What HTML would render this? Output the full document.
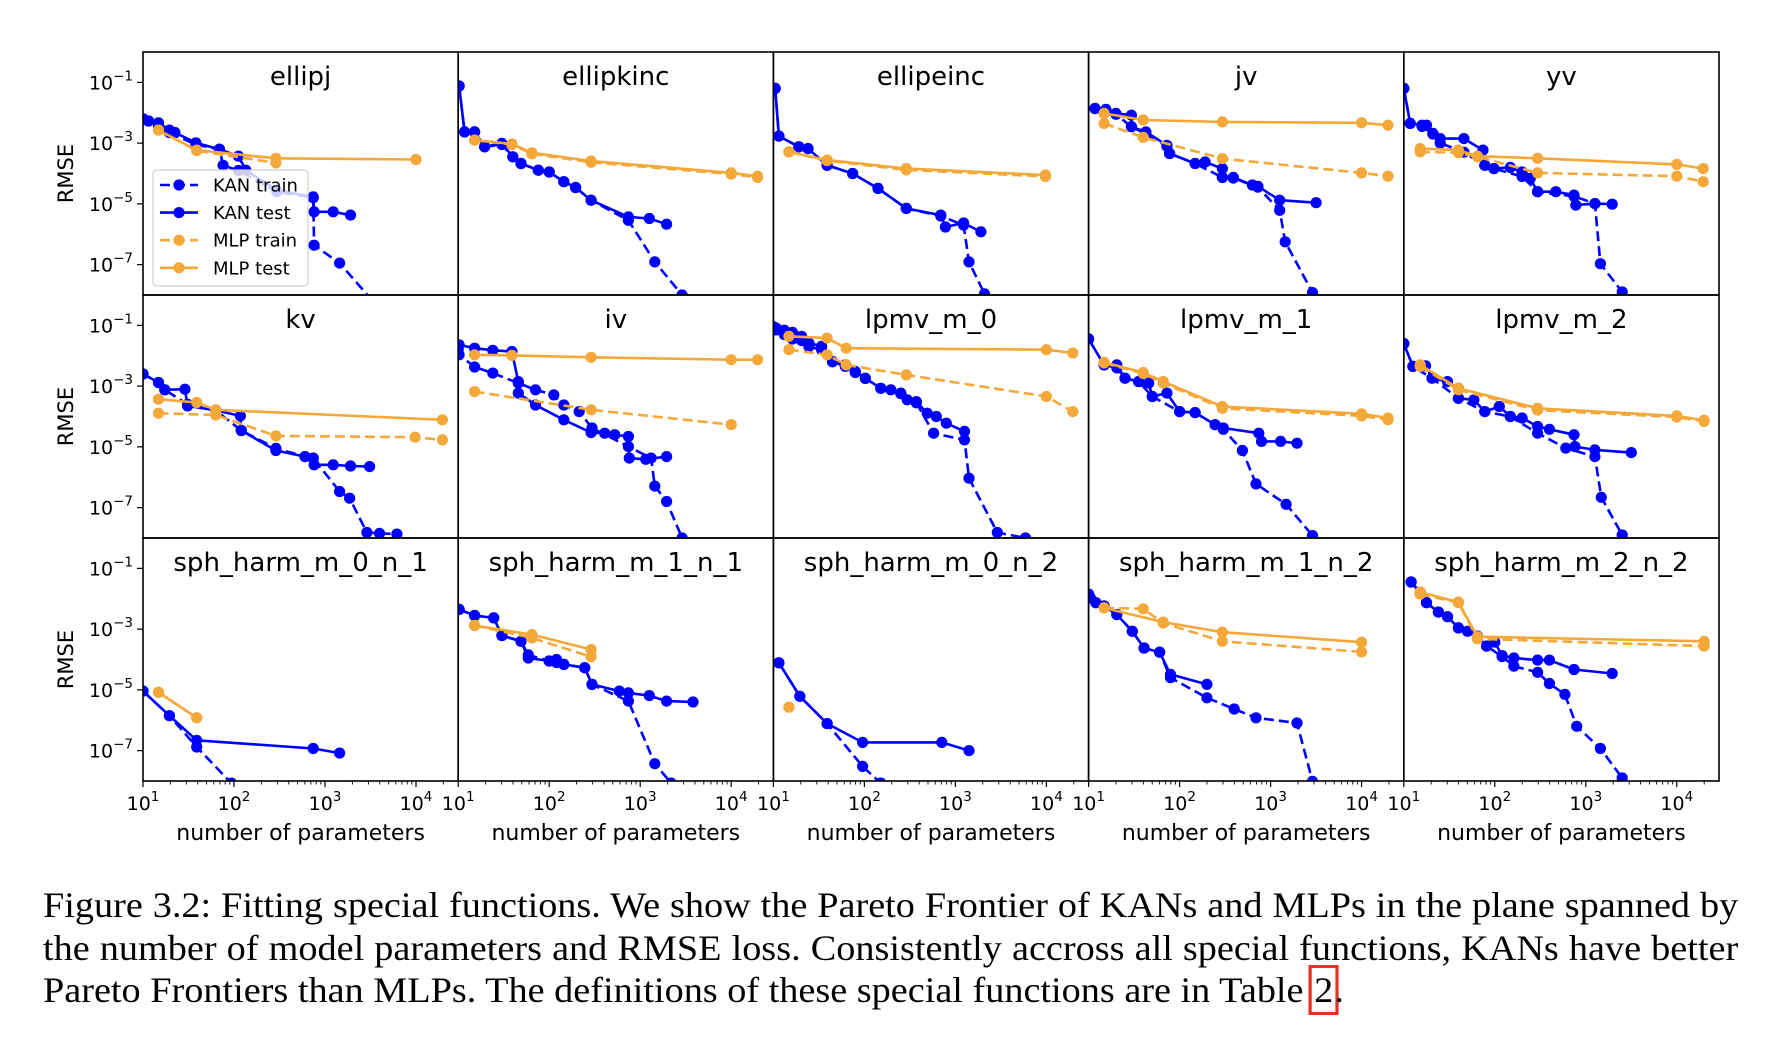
<!DOCTYPE html>
<html><head><meta charset="utf-8"><style>
body{margin:0;background:#fff;}
#wrap{position:relative;width:1766px;height:1050px;overflow:hidden;background:#fff;}
svg{position:absolute;left:0;top:0;}
.cap{position:absolute;left:43px;width:1574px;font-family:"Liberation Serif",serif;font-size:35.5px;line-height:43px;color:#000;white-space:nowrap;transform:scaleX(1.077);transform-origin:0 0;}
.j{text-align:justify;text-align-last:justify;white-space:normal;}
.ref{display:inline-block;line-height:42px;outline:3px solid #e53222;outline-offset:1px;padding:0 1px;}
</style></head><body>
<div id="wrap">
<svg id="chart" width="1766" height="1050" xmlns="http://www.w3.org/2000/svg"></svg>
<div class="cap j" style="top:884px">Figure 3.2: Fitting special functions. We show the Pareto Frontier of KANs and MLPs in the plane spanned by</div>
<div class="cap j" style="top:927px">the number of model parameters and RMSE loss. Consistently accross all special functions, KANs have better</div>
<div class="cap" style="top:969px">Pareto Frontiers than MLPs. The definitions of these special functions are in Table <span class="ref">2</span>.</div>
</div>
<script>
const titles = ["ellipj","ellipkinc","ellipeinc","jv","yv","kv","iv","lpmv_m_0","lpmv_m_1","lpmv_m_2","sph_harm_m_0_n_1","sph_harm_m_1_n_1","sph_harm_m_0_n_2","sph_harm_m_1_n_2","sph_harm_m_2_n_2"];
// points are [log10(number of parameters), log10(RMSE)]
const kanTest = [
[[1.0,-2.2],[1.06,-2.27],[1.17,-2.33],[1.29,-2.57],[1.35,-2.65],[1.58,-2.99],[1.84,-3.2],[2.05,-3.43],[2.13,-3.89],[2.47,-4.55],[2.87,-4.77],[2.88,-5.26],[3.09,-5.26],[3.28,-5.37]],
[[1.01,-1.12],[1.07,-2.63],[1.18,-2.63],[1.29,-3.12],[1.48,-3.01],[1.6,-3.45],[1.69,-3.67],[1.88,-3.89],[2.0,-3.95],[2.16,-4.27],[2.29,-4.46],[2.46,-4.88],[2.87,-5.43],[3.1,-5.48],[3.29,-5.67]],
[[1.02,-1.2],[1.06,-2.77],[1.28,-3.12],[1.38,-3.18],[1.59,-3.73],[1.87,-4.0],[2.15,-4.49],[2.46,-5.15],[2.84,-5.37],[2.89,-5.76],[3.09,-5.63],[3.28,-5.92]],
[[1.07,-1.86],[1.19,-1.89],[1.3,-2.02],[1.47,-2.08],[1.47,-2.46],[1.63,-2.63],[1.86,-3.07],[1.89,-3.34],[2.17,-3.67],[2.28,-3.62],[2.47,-3.84],[2.47,-4.13],[2.59,-4.13],[2.8,-4.38],[2.86,-4.42],[3.1,-4.88],[3.5,-4.96]],
[[1.0,-1.2],[1.07,-2.35],[1.2,-2.41],[1.25,-2.41],[1.32,-2.68],[1.4,-2.85],[1.66,-2.85],[1.87,-3.23],[1.89,-3.73],[1.99,-3.84],[2.17,-3.8],[2.3,-3.95],[2.39,-4.16],[2.47,-4.6],[2.67,-4.6],[2.87,-4.71],[2.89,-5.04],[3.1,-4.99],[3.29,-5.01]],
[[1.0,-2.6],[1.17,-2.88],[1.24,-3.12],[1.46,-3.1],[1.49,-3.65],[1.8,-3.8],[2.07,-3.98],[2.08,-4.46],[2.46,-5.12],[2.78,-5.32],[2.87,-5.37],[2.88,-5.59],[3.09,-5.59],[3.28,-5.63],[3.49,-5.65]],
[[1.01,-1.64],[1.18,-1.75],[1.38,-1.82],[1.59,-1.86],[1.66,-2.85],[1.66,-3.23],[1.85,-3.62],[2.16,-4.11],[2.46,-4.53],[2.61,-4.55],[2.72,-4.6],[2.87,-4.66],[2.88,-5.37],[3.06,-5.41],[3.29,-5.32]],
[[1.0,-1.05],[1.03,-1.09],[1.12,-1.16],[1.21,-1.23],[1.31,-1.36],[1.39,-1.58],[1.53,-1.69],[1.65,-2.19],[1.79,-2.3],[1.9,-2.52],[2.01,-2.74],[2.18,-3.07],[2.29,-3.12],[2.4,-3.23],[2.47,-3.45],[2.57,-3.51],[2.69,-3.89],[2.79,-4.0],[2.9,-4.22],[3.1,-4.49]],
[[1.0,-1.45],[1.17,-2.3],[1.31,-2.3],[1.4,-2.74],[1.55,-2.85],[1.66,-2.9],[1.7,-3.34],[1.86,-3.23],[2.0,-3.84],[2.17,-3.87],[2.39,-4.27],[2.48,-4.38],[2.87,-4.55],[2.9,-4.82],[3.11,-4.82],[3.29,-4.88]],
[[1.0,-1.6],[1.1,-2.35],[1.24,-2.33],[1.31,-2.74],[1.48,-2.85],[1.6,-3.07],[1.6,-3.4],[1.77,-3.45],[1.89,-3.84],[2.05,-3.67],[2.17,-4.0],[2.3,-4.05],[2.47,-4.33],[2.6,-4.42],[2.87,-4.6],[2.88,-4.99],[3.1,-5.1],[3.5,-5.19]],
[[1.0,-5.04],[1.29,-5.85],[1.59,-6.66],[2.87,-6.93],[3.16,-7.08]],
[[1.01,-2.35],[1.18,-2.55],[1.39,-2.63],[1.48,-3.21],[1.69,-3.4],[1.77,-3.95],[2.0,-4.05],[2.08,-4.0],[2.16,-4.16],[2.39,-4.27],[2.47,-4.82],[2.77,-5.04],[2.87,-5.1],[3.1,-5.19],[3.29,-5.37],[3.58,-5.4]],
[[1.06,-4.11],[1.29,-5.21],[1.59,-6.11],[1.98,-6.73],[2.85,-6.73],[3.15,-7.0]],
[[1.0,-1.85],[1.02,-1.97],[1.08,-2.13],[1.17,-2.24],[1.31,-2.52],[1.48,-3.07],[1.61,-3.62],[1.78,-3.76],[1.9,-4.49],[2.3,-4.82]],
[[1.08,-1.45],[1.18,-1.78],[1.25,-2.13],[1.38,-2.44],[1.48,-2.59],[1.6,-2.96],[1.7,-3.07],[1.81,-3.23],[1.91,-3.56],[2.0,-3.43],[2.08,-3.87],[2.21,-3.95],[2.47,-4.02],[2.6,-4.02],[2.87,-4.33],[3.29,-4.46]]
];
const kanTrain = [
[[1.0,-2.2],[1.06,-2.27],[1.17,-2.45],[1.29,-2.65],[1.58,-3.05],[1.84,-3.2],[1.88,-3.73],[2.05,-3.9],[2.47,-4.6],[2.87,-4.8],[2.88,-6.36],[3.16,-6.95],[3.7,-8.8]],
[[1.01,-1.12],[1.07,-2.63],[1.18,-2.63],[1.29,-3.12],[1.48,-3.05],[1.6,-3.45],[1.69,-3.67],[1.88,-3.89],[2.0,-3.95],[2.16,-4.27],[2.29,-4.46],[2.46,-4.88],[2.87,-5.54],[3.16,-6.91],[3.46,-8.0],[3.6,-8.5]],
[[1.02,-1.2],[1.06,-2.77],[1.28,-3.12],[1.38,-3.18],[1.59,-3.73],[1.87,-4.0],[2.15,-4.49],[2.46,-5.15],[2.84,-5.4],[3.09,-5.7],[3.15,-6.91],[3.32,-7.96],[3.4,-8.5]],
[[1.07,-1.86],[1.19,-1.95],[1.3,-2.05],[1.47,-2.46],[1.63,-2.7],[1.86,-3.1],[1.89,-3.34],[2.17,-3.67],[2.47,-4.13],[2.59,-4.15],[2.86,-4.45],[3.1,-5.21],[3.16,-6.25],[3.46,-7.92],[3.6,-8.5]],
[[1.0,-1.2],[1.07,-2.35],[1.2,-2.45],[1.32,-2.7],[1.4,-3.0],[1.66,-3.3],[1.89,-3.73],[1.99,-3.84],[2.3,-4.1],[2.47,-4.6],[2.87,-4.75],[3.1,-4.99],[3.16,-6.97],[3.4,-7.9],[3.6,-8.5]],
[[1.0,-2.6],[1.17,-2.88],[1.24,-3.12],[1.49,-3.6],[1.8,-3.8],[2.08,-4.46],[2.46,-5.05],[2.78,-5.32],[2.87,-5.37],[3.16,-6.47],[3.27,-6.69],[3.46,-7.82],[3.6,-7.85],[3.79,-7.87]],
[[1.0,-1.8],[1.01,-1.97],[1.18,-2.37],[1.38,-2.57],[1.66,-2.9],[1.85,-3.12],[2.05,-3.29],[2.16,-3.62],[2.33,-3.84],[2.47,-4.38],[2.87,-4.99],[3.12,-5.37],[3.16,-6.29],[3.29,-6.8],[3.46,-8.0],[3.6,-8.5]],
[[1.0,-1.05],[1.03,-1.15],[1.12,-1.3],[1.21,-1.45],[1.31,-1.5],[1.39,-1.7],[1.53,-1.8],[1.65,-2.2],[1.79,-2.35],[1.9,-2.55],[2.01,-2.75],[2.18,-3.07],[2.4,-3.25],[2.57,-3.55],[2.76,-4.55],[3.1,-4.77],[3.15,-6.03],[3.46,-7.82],[3.77,-8.0]],
[[1.0,-1.45],[1.17,-2.3],[1.31,-2.4],[1.4,-2.74],[1.55,-2.85],[1.7,-3.34],[2.0,-3.84],[2.17,-3.87],[2.39,-4.27],[2.48,-4.42],[2.69,-5.12],[2.84,-6.22],[3.17,-6.89],[3.46,-7.92],[3.6,-8.5]],
[[1.0,-1.6],[1.1,-2.35],[1.31,-2.74],[1.6,-3.4],[1.89,-3.84],[2.17,-4.0],[2.47,-4.55],[2.78,-5.04],[3.1,-5.32],[3.17,-6.66],[3.4,-7.9],[3.6,-8.5]],
[[1.0,-5.04],[1.29,-5.85],[1.59,-6.88],[1.97,-8.07],[2.2,-8.6]],
[[1.01,-2.35],[1.18,-2.55],[1.39,-2.63],[1.48,-3.21],[1.69,-3.4],[1.77,-3.85],[2.0,-4.05],[2.08,-4.1],[2.16,-4.16],[2.39,-4.27],[2.47,-4.82],[2.87,-5.37],[3.16,-7.43],[3.34,-8.07],[3.4,-8.5]],
[[1.06,-4.11],[1.29,-5.21],[1.59,-6.11],[1.98,-7.52],[2.18,-8.07],[2.3,-8.5]],
[[1.0,-1.85],[1.08,-2.13],[1.17,-2.24],[1.31,-2.52],[1.48,-3.07],[1.61,-3.62],[1.78,-3.76],[1.9,-4.6],[2.3,-5.26],[2.6,-5.63],[2.84,-5.92],[3.29,-6.09],[3.46,-8.01],[3.5,-8.5]],
[[1.08,-1.45],[1.18,-1.8],[1.25,-2.13],[1.38,-2.44],[1.48,-2.59],[1.6,-2.96],[1.81,-3.25],[1.91,-3.56],[2.08,-3.9],[2.21,-4.22],[2.47,-4.42],[2.6,-4.79],[2.77,-5.15],[2.9,-6.2],[3.16,-6.93],[3.4,-7.9],[3.6,-8.5]]
];
const mlpTest = [
[[1.17,-2.57],[1.59,-3.23],[2.46,-3.5],[4.0,-3.54]],
[[1.18,-2.9],[1.59,-3.03],[1.81,-3.32],[2.46,-3.59],[4.0,-3.98],[4.29,-4.09]],
[[1.17,-3.29],[1.59,-3.56],[2.46,-3.84],[3.99,-4.05]],
[[1.17,-2.02],[1.6,-2.24],[2.47,-2.3],[4.0,-2.33],[4.29,-2.41]],
[[1.18,-3.18],[1.6,-3.23],[1.81,-3.43],[2.47,-3.5],[4.0,-3.7],[4.29,-3.84]],
[[1.17,-3.43],[1.59,-3.54],[1.8,-3.78],[4.29,-4.11]],
[[1.18,-1.97],[1.59,-1.99],[2.46,-2.05],[4.0,-2.13],[4.29,-2.13]],
[[1.17,-1.36],[1.59,-1.42],[1.8,-1.75],[4.0,-1.8],[4.29,-1.91]],
[[1.17,-2.22],[1.6,-2.55],[1.82,-2.85],[2.47,-3.67],[4.0,-3.91],[4.29,-4.05]],
[[1.18,-2.3],[1.6,-3.07],[2.47,-3.73],[4.0,-3.98],[4.3,-4.13]],
[[1.17,-5.08],[1.59,-5.92]],
[[1.18,-2.88],[1.81,-3.18],[2.46,-3.67]],
[[1.17,-5.57]],
[[1.17,-2.3],[1.82,-2.77],[2.47,-3.1],[4.0,-3.43]],
[[1.18,-1.78],[1.6,-2.11],[1.81,-3.25],[4.3,-3.4]]
];
const mlpTrain = [
[[1.17,-2.57],[1.59,-3.25],[2.46,-3.65]],
[[1.18,-2.9],[1.59,-3.05],[1.81,-3.35],[2.46,-3.63],[4.0,-4.02],[4.29,-4.13]],
[[1.17,-3.29],[1.59,-3.58],[2.46,-3.88],[3.99,-4.1]],
[[1.17,-2.35],[1.6,-2.81],[2.47,-3.51],[4.0,-3.98],[4.29,-4.09]],
[[1.18,-3.29],[1.6,-3.32],[1.81,-3.45],[2.47,-3.98],[4.0,-4.09],[4.29,-4.27]],
[[1.17,-3.89],[1.8,-3.95],[2.46,-4.64],[3.99,-4.68],[4.29,-4.77]],
[[1.18,-3.18],[2.46,-3.78],[4.0,-4.27]],
[[1.17,-1.8],[1.59,-1.97],[1.8,-2.3],[2.46,-2.63],[4.0,-3.34],[4.29,-3.84]],
[[1.17,-2.24],[1.6,-2.58],[1.82,-2.9],[2.47,-3.73],[4.0,-3.98],[4.29,-4.11]],
[[1.18,-2.35],[1.6,-3.12],[2.47,-3.79],[4.0,-4.02],[4.3,-4.16]],
[[1.17,-5.08],[1.59,-5.92]],
[[1.18,-2.88],[1.81,-3.29],[2.46,-3.91]],
[[1.17,-5.57]],
[[1.17,-2.3],[1.6,-2.33],[1.82,-2.8],[2.47,-3.4],[4.0,-3.75]],
[[1.18,-1.85],[1.6,-2.13],[1.81,-3.32],[4.3,-3.56]]
];
const xTickExps = [1,2,3,4];
const yTickExps = [-1,-3,-5,-7];
const legendLabels = ["KAN train","KAN test","MLP train","MLP test"];

const NS = "http://www.w3.org/2000/svg";
const svg = document.getElementById("chart");
const L0 = 143, T0 = 52, PW = 315.2, PH = 243;
const XDEC = 91.0, XMIN = 1, YMAX = 0, YMIN = -8;
const BLUE = "#0000ff", ORANGE = "#f4a83a";
function xAt(c, lx){ return L0 + c*PW + (lx - XMIN)*XDEC; }
function yAt(r, ly){ return T0 + r*PH + (YMAX - ly)/(YMAX - YMIN)*PH; }
function mk(tag, attrs, parent){
  const e = document.createElementNS(NS, tag);
  for (const k in attrs) e.setAttribute(k, attrs[k]);
  (parent || svg).appendChild(e);
  return e;
}
const defs = mk("defs", {});
const FONT = "DejaVu Sans, Liberation Sans, sans-serif";

function drawSeries(g, c, r, pts, color, dashed, name){
  const sg = mk("g", {}, g);
  
  
  const d = pts.map((p,i)=>(i?"L":"M")+xAt(c,p[0]).toFixed(1)+","+yAt(r,p[1]).toFixed(1)).join("");
  if (pts.length > 1) {
    const ln = mk("path", {d:d, fill:"none", stroke:color, "stroke-width":2.6, "stroke-linejoin":"round"}, sg);
    if (dashed) ln.setAttribute("stroke-dasharray", "10,5");
    
    
  }
  pts.forEach(p=>{
    const m = mk("circle", {cx:xAt(c,p[0]).toFixed(1), cy:yAt(r,p[1]).toFixed(1), r:5.6, fill:color}, sg);
    
    
  });
}

for (let i = 0; i < 15; i++) {
  const c = i % 5, r = Math.floor(i / 5);
  const x0 = L0 + c*PW, y0 = T0 + r*PH;
  const g = mk("g", {});
  
  
  const cp = mk("clipPath", {id:"cp"+i}, defs);
  mk("rect", {x:x0, y:y0, width:PW, height:PH}, cp);
  const data = mk("g", {"clip-path":"url(#cp"+i+")"}, g);
  drawSeries(data, c, r, kanTrain[i], BLUE, true, "kan-train-series");
  drawSeries(data, c, r, kanTest[i], BLUE, false, "kan-test-series");
  drawSeries(data, c, r, mlpTrain[i], ORANGE, true, "mlp-train-series");
  drawSeries(data, c, r, mlpTest[i], ORANGE, false, "mlp-test-series");
  const t = mk("text", {x:x0 + PW/2, y:y0 + 33, "text-anchor":"middle", "font-family":FONT, "font-size":26, fill:"#000"}, g);
  t.textContent = titles[i];
  
  
  if (c === 0) {
    yTickExps.forEach(e=>{
      const y = yAt(r, e);
      mk("line", {x1:x0-6, x2:x0, y1:y, y2:y, stroke:"#000", "stroke-width":1.2}, g);
      const tl = mk("text", {x:x0-10, y:y+7, "text-anchor":"end", "font-family":FONT, "font-size":19, fill:"#000"}, g);
      
      
      const b = mk("tspan", {}, tl); b.textContent = "10";
      const s = mk("tspan", {dy:-9, "font-size":13.5}, tl); s.textContent = "\u2212" + Math.abs(e);
    });
    const yl = mk("text", {x:0, y:0, transform:"translate(73,"+(y0+PH/2)+") rotate(-90)", "text-anchor":"middle", "font-family":FONT, "font-size":21, fill:"#000"}, g);
    yl.textContent = "RMSE";
    
    
  }
  if (r === 2) {
    for (let k = 1; k <= 4; k++) {
      for (let m = 1; m <= 9; m++) {
        const lx = k + Math.log10(m);
        if (lx > 1 + PW/XDEC) continue;
        const x = xAt(c, lx);
        mk("line", {x1:x, x2:x, y1:y0+PH, y2:y0+PH+(m===1?6:3.5), stroke:"#000", "stroke-width":m===1?1.2:0.9}, g);
      }
    }
    xTickExps.forEach(e=>{
      const x = xAt(c, e);
      const tl = mk("text", {x:x, y:y0+PH+29, "text-anchor":"middle", "font-family":FONT, "font-size":19, fill:"#000"}, g);
      
      
      const b = mk("tspan", {}, tl); b.textContent = "10";
      const s = mk("tspan", {dy:-9, "font-size":13.5}, tl); s.textContent = String(e);
    });
    const xl = mk("text", {x:x0+PW/2, y:y0+PH+59, "text-anchor":"middle", "font-family":FONT, "font-size":22, fill:"#000"}, g);
    xl.textContent = "number of parameters";
    
    
  }
  const fr = mk("rect", {x:x0, y:y0, width:PW, height:PH, fill:"none", stroke:"#000", "stroke-width":1.6}, g);
  
  
}

const lg = mk("g", {});


mk("rect", {x:153, y:170, width:155, height:116, rx:4, fill:"#fff", "fill-opacity":0.8, stroke:"#d0d0d0", "stroke-width":1.2}, lg);
const legColors = [BLUE, BLUE, ORANGE, ORANGE];
const legDash = [true, false, true, false];
legendLabels.forEach((lab, k)=>{
  const y = 185 + k*27.6;
  const eg = mk("g", {}, lg);
  
  
  const ln = mk("line", {x1:160, x2:198, y1:y, y2:y, stroke:legColors[k], "stroke-width":2.6}, eg);
  if (legDash[k]) ln.setAttribute("stroke-dasharray", "10,5");
  mk("circle", {cx:179, cy:y, r:5.6, fill:legColors[k]}, eg);
  const tx = mk("text", {x:213, y:y+6.5, "font-family":FONT, "font-size":18, fill:"#000"}, eg);
  tx.textContent = lab;
});
</script>
</body></html>
